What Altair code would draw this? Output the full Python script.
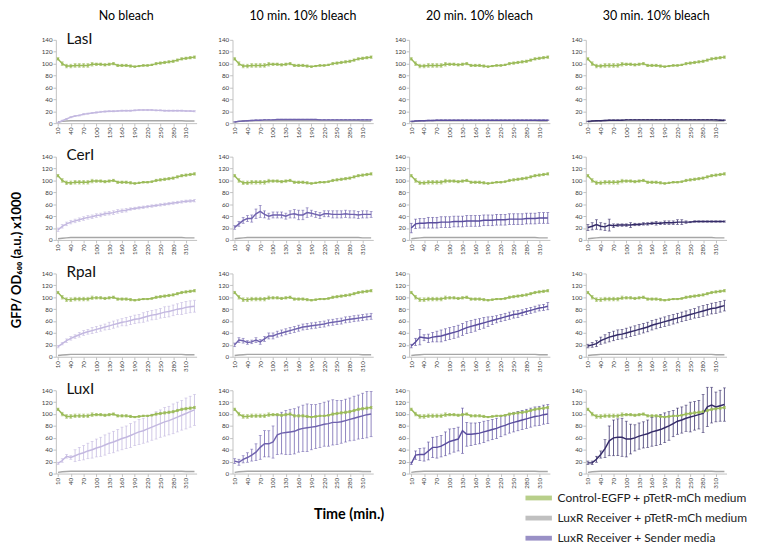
import altair as alt
import pandas as pd

times = [10, 20, 30, 40, 50, 60, 70, 80, 90, 100, 110, 120, 130, 140, 150, 160, 170,
         180, 190, 200, 210, 220, 230, 240, 250, 260, 270, 280, 290, 300, 310, 320, 330]
x_labels = [10, 40, 70, 100, 130, 160, 190, 220, 250, 280, 310]
y_labels = [0, 20, 40, 60, 80, 100, 120, 140]

genes = ["LasI", "CerI", "RpaI", "LuxI"]
bleaches = ["No bleach", "10 min. 10% bleach", "20 min. 10% bleach", "30 min. 10% bleach"]

CTRL = "Control-EGFP + pTetR-mCh medium"
GRAY = "LuxR Receiver + pTetR-mCh medium"
SEND = "LuxR Receiver + Sender media"
purple_keys = ["Sender (no bleach)", SEND, "Sender (20 min)", "Sender (30 min)"]

# Control-EGFP + pTetR-mCh medium (same in all panels)
ctrl = [108, 100, 96, 96, 97, 97, 97, 97, 99, 99, 99, 98, 99, 100, 97, 97, 97, 96, 95, 96,
        97, 97, 98, 100, 101, 102, 103, 104, 106, 108, 109, 110, 111]
ctrl_err = [2, 3, 3, 3, 3, 3, 3, 3, 3, 2, 2, 2, 2, 2, 2, 2, 2, 2, 1, 1,
            1, 1, 1, 2, 2, 2, 2, 2, 2, 2, 2, 2, 2]
# LuxR Receiver + pTetR-mCh medium
gray = [2, 3, 3.5, 4, 4, 4, 4, 4, 4, 4, 4, 4, 4, 4, 4, 4, 4, 4, 4, 4,
        4, 4, 4, 4, 4, 4, 4, 4, 4, 4, 3.5, 3.5, 3.5]

# LuxR Receiver + Sender media
lasi_0 = [1, 4, 7, 10, 12, 13, 15, 16, 17, 18, 19, 19.5, 20, 20, 20.5, 21, 21, 21, 21.5, 22,
          22, 22, 22, 21.5, 21.5, 21, 21, 21, 21, 21, 20.5, 20.5, 20]
lasi_0_err = [0.5, 1, 1, 1, 1, 1, 1, 1, 1, 1, 1, 1, 1, 1, 1, 1, 1, 1, 1, 1,
              1, 1, 1, 1, 1, 1, 1, 1, 1, 1, 1, 1, 1]
lasi_10 = [2, 3, 3.5, 4, 4.5, 5, 5, 5.5, 5.5, 5.5, 6, 6, 6, 6, 6, 6, 6, 6, 6, 6,
           5.5, 5.5, 5.5, 5.5, 5.5, 5.5, 5.5, 5.5, 5.5, 5.5, 5.5, 5.5, 5.5]
lasi_10_err = [0.5, 0.5, 0.5, 0.5, 0.5, 0.5, 0.5, 0.5, 0.5, 0.5, 0.5, 0.5, 0.5, 0.5, 0.5, 0.5, 0.5, 0.5, 0.5, 0.5,
               0.5, 0.5, 0.5, 0.5, 0.5, 0.5, 0.5, 0.5, 0.5, 0.5, 0.5, 0.5, 0.5]
lasi_20 = [3, 3.5, 4, 4, 4.5, 4.5, 5, 5, 5, 5, 5, 5, 5, 5, 5, 5, 5, 5, 5, 5,
           5, 5, 5, 5, 5, 5, 5, 5, 5, 5, 5, 5, 5]
lasi_20_err = [0.5, 0.5, 0.5, 0.5, 0.5, 0.5, 0.5, 0.5, 0.5, 0.5, 0.5, 0.5, 0.5, 0.5, 0.5, 0.5, 0.5, 0.5, 0.5, 0.5,
               0.5, 0.5, 0.5, 0.5, 0.5, 0.5, 0.5, 0.5, 0.5, 0.5, 0.5, 0.5, 0.5]
lasi_30 = [3, 3.5, 4, 4, 4.5, 5, 5, 5, 5, 5.5, 5.5, 5.5, 5.5, 5.5, 5.5, 5.5, 5.5, 5.5, 5.5, 5.5,
           5.5, 5.5, 5.5, 5.5, 5.5, 5.5, 5.5, 5.5, 5.5, 5.5, 5.5, 5, 5]
lasi_30_err = [0.5, 0.5, 0.5, 0.5, 0.5, 0.5, 0.5, 0.5, 0.5, 0.5, 0.5, 0.5, 0.5, 0.5, 0.5, 0.5, 0.5, 0.5, 0.5, 0.5,
               0.5, 0.5, 0.5, 0.5, 0.5, 0.5, 0.5, 0.5, 0.5, 0.5, 0.5, 0.5, 0.5]

ceri_0 = [17, 23, 27, 30, 32, 34, 36, 38, 39, 41, 42, 44, 45, 46, 48, 49, 50, 52, 53, 54,
          55, 56, 57, 58, 59, 60, 61, 62, 63, 64, 65, 65.5, 66]
ceri_0_err = [3, 3, 3, 3, 3, 3, 3, 3, 3, 3, 3, 3, 3, 3, 3, 3, 3, 2, 2, 2,
              2, 2, 2, 2, 2, 2, 2, 2, 2, 2, 2, 2, 2]
ceri_10 = [21, 27, 33, 36, 36, 44, 48, 43, 40, 42, 42, 42, 40, 43, 44, 42, 42, 46, 45, 43,
           41, 44, 44, 43, 43, 43, 44, 43, 43, 42, 43, 43, 43]
ceri_10_err = [3, 4, 5, 5, 6, 8, 10, 6, 5, 5, 5, 5, 5, 6, 7, 8, 8, 8, 5, 5,
               5, 5, 5, 6, 6, 6, 6, 6, 6, 6, 6, 6, 5]
ceri_20 = [20, 27, 28, 28, 29, 29, 29, 30, 30, 30, 31, 31, 31, 32, 32, 32, 32, 33, 33, 33,
           34, 34, 34, 35, 35, 35, 35, 36, 36, 36, 37, 37, 37]
ceri_20_err = [8, 8, 8, 8, 9, 9, 9, 9, 9, 9, 9, 9, 9, 9, 9, 9, 9, 9, 9, 9,
               9, 9, 9, 9, 9, 9, 9, 9, 9, 9, 9, 9, 9]
ceri_30 = [21, 23, 26, 23, 22, 25, 24, 25, 25, 25, 25, 26, 26, 27, 27, 28, 28, 28, 29, 29,
           29, 30, 30, 30, 30, 31, 31, 31, 31, 31, 31, 31, 31]
ceri_30_err = [5, 6, 8, 6, 6, 10, 3, 2, 2, 2, 4, 2, 2, 2, 2, 2, 3, 2, 3, 3,
               3, 4, 4, 2, 1, 1, 1, 1, 1, 1, 1, 1, 1]

rpai_0 = [17, 22, 27, 31, 34, 37, 40, 42, 44, 46, 48, 50, 52, 54, 56, 58, 59, 61, 63, 64,
          66, 68, 70, 71, 73, 75, 76, 78, 80, 81, 83, 84, 85]
rpai_0_err = [2, 2, 3, 3, 3, 4, 4, 4, 5, 5, 5, 5, 6, 6, 6, 6, 7, 7, 7, 7,
              8, 8, 8, 8, 8, 9, 9, 9, 9, 10, 10, 10, 10]
rpai_10 = [20, 28, 27, 24, 25, 28, 25, 30, 35, 35, 38, 40, 42, 44, 46, 48, 50, 51, 52, 53,
           54, 55, 57, 58, 59, 60, 62, 63, 64, 65, 66, 67, 68]
rpai_10_err = [3, 4, 4, 3, 3, 4, 4, 4, 5, 5, 5, 5, 5, 5, 5, 5, 5, 5, 5, 5,
               5, 5, 5, 5, 5, 5, 5, 5, 5, 5, 5, 5, 5]
rpai_20 = [18, 25, 33, 32, 31, 33, 34, 35, 37, 39, 41, 43, 46, 49, 51, 53, 55, 57, 59, 61,
           63, 65, 67, 69, 71, 72, 74, 76, 78, 80, 82, 83, 85]
rpai_20_err = [3, 6, 13, 5, 7, 8, 9, 10, 10, 10, 10, 10, 10, 10, 10, 10, 9, 9, 8, 7,
               6, 6, 6, 6, 6, 6, 5, 5, 5, 5, 5, 5, 6]
rpai_30 = [18, 20, 22, 27, 30, 33, 35, 37, 38, 40, 42, 44, 46, 48, 50, 53, 55, 57, 59, 61,
           63, 65, 67, 69, 71, 73, 75, 77, 79, 81, 82, 84, 86]
rpai_30_err = [3, 4, 5, 6, 7, 8, 8, 8, 8, 8, 8, 8, 8, 8, 8, 8, 8, 8, 8, 8,
               8, 8, 8, 8, 8, 8, 9, 9, 9, 9, 9, 9, 9]

luxi_0 = [17, 22, 29, 27, 30, 33, 35, 38, 40, 43, 45, 48, 51, 53, 56, 59, 61, 64, 67, 70,
          72, 75, 78, 81, 84, 87, 89, 92, 95, 98, 101, 104, 107]
luxi_0_err = [2, 3, 3, 3, 10, 11, 12, 13, 14, 15, 16, 17, 17, 18, 18, 19, 19, 20, 20, 21,
              21, 22, 22, 23, 23, 24, 24, 25, 25, 25, 26, 26, 26]
luxi_10 = [21, 19, 24, 27, 31, 36, 44, 50, 50, 53, 65, 68, 69, 70, 71, 74, 76, 77, 78, 79,
           81, 83, 84, 86, 86, 87, 89, 91, 93, 95, 97, 99, 100]
luxi_10_err = [4, 5, 6, 8, 10, 14, 20, 22, 22, 27, 33, 35, 37, 38, 38, 38, 39, 40, 38, 37,
               37, 37, 38, 38, 37, 36, 36, 36, 37, 37, 38, 39, 38]
luxi_20 = [17, 31, 32, 32, 38, 44, 44, 46, 50, 54, 56, 58, 72, 66, 66, 67, 68, 70, 72, 74,
           76, 79, 81, 84, 86, 88, 90, 92, 94, 96, 97, 99, 100]
luxi_20_err = [2, 7, 10, 11, 15, 17, 18, 18, 20, 21, 20, 20, 38, 20, 19, 18, 18, 18, 17, 17,
               17, 17, 16, 16, 16, 16, 16, 16, 16, 16, 16, 16, 16]
luxi_30 = [18, 18, 24, 32, 42, 55, 60, 61, 61, 58, 58, 60, 63, 65, 67, 70, 72, 74, 77, 80,
           84, 88, 90, 93, 95, 97, 99, 101, 112, 115, 112, 114, 116]
luxi_30_err = [3, 3, 5, 6, 15, 25, 30, 31, 32, 30, 25, 22, 22, 22, 23, 24, 25, 25, 25, 24,
               22, 22, 22, 22, 25, 24, 24, 32, 33, 30, 25, 26, 28]

sender = {
    "LasI": [(lasi_0, lasi_0_err), (lasi_10, lasi_10_err), (lasi_20, lasi_20_err), (lasi_30, lasi_30_err)],
    "CerI": [(ceri_0, ceri_0_err), (ceri_10, ceri_10_err), (ceri_20, ceri_20_err), (ceri_30, ceri_30_err)],
    "RpaI": [(rpai_0, rpai_0_err), (rpai_10, rpai_10_err), (rpai_20, rpai_20_err), (rpai_30, rpai_30_err)],
    "LuxI": [(luxi_0, luxi_0_err), (luxi_10, luxi_10_err), (luxi_20, luxi_20_err), (luxi_30, luxi_30_err)],
}

rows = []
for g in genes:
    for bi, b in enumerate(bleaches):
        sv, se = sender[g][bi]
        for key, vals, errs in [(CTRL, ctrl, ctrl_err), (GRAY, gray, [0] * len(gray)),
                                (purple_keys[bi], sv, se)]:
            assert len(vals) == len(times) and len(errs) == len(times), (g, b, key)
            for t, v, e in zip(times, vals, errs):
                rows.append({"gene": g, "bleach": b, "key": key, "t": t, "v": v,
                             "lo": v - e, "hi": v + e, "err": e})
df = pd.DataFrame(rows)

color_domain = [CTRL, GRAY, SEND, purple_keys[0], purple_keys[2], purple_keys[3]]
color_range = ["#9bbb59", "#a6a6a6", "#6f62ae", "#c3b8e0", "#5a4d9e", "#342b68"]

FONT = "Lato"
color = alt.Color(
    "key:N",
    scale=alt.Scale(domain=color_domain, range=color_range),
    legend=alt.Legend(values=[CTRL, GRAY, SEND], title=None, orient="none",
                      legendX=488, legendY=470,
                      symbolType="M-1,0H3.6",
                      symbolStrokeWidth=5, symbolSize=144, labelFontSize=12.5,
                      labelFont=FONT, labelColor="#222222", rowPadding=0,
                      labelOffset=19, labelLimit=300),
)
x = alt.X("t:Q", scale=alt.Scale(domain=[5, 335], nice=False, zero=False),
          axis=alt.Axis(values=x_labels, title=None, labelAngle=-90))
y_axis = alt.Axis(values=y_labels, title=None)
y_scale = alt.Scale(domain=[0, 140], nice=False)

base = alt.Chart()
bars = base.mark_rule(strokeWidth=0.8).encode(
    x=x, y=alt.Y("lo:Q", scale=y_scale, axis=y_axis), y2="hi:Q", color=color
).transform_filter("datum.err > 0")
tick_lo = base.mark_tick(orient="horizontal", size=3, thickness=0.8).encode(
    x=x, y=alt.Y("lo:Q", scale=y_scale, axis=y_axis), color=color
).transform_filter("datum.err > 0")
tick_hi = base.mark_tick(orient="horizontal", size=3, thickness=0.8).encode(
    x=x, y=alt.Y("hi:Q", scale=y_scale, axis=y_axis), color=color
).transform_filter("datum.err > 0")
lines = base.mark_line(strokeWidth=1.5).encode(
    x=x, y=alt.Y("v:Q", scale=y_scale, axis=y_axis), color=color
)
pts = base.mark_point(shape="square", size=5, filled=True, opacity=1).encode(
    x=x, y=alt.Y("v:Q", scale=y_scale, axis=y_axis), color=color
).transform_filter(alt.datum.key == CTRL)
label = base.mark_text(align="left", baseline="middle", fontSize=16, font=FONT,
                       color="#111111").encode(
    text="gene:N", x=alt.value(11), y=alt.value(-1)
).transform_filter(
    (alt.datum.bleach == bleaches[0]) & (alt.datum.key == CTRL) & (alt.datum.t == 10)
)

chart = alt.layer(bars, tick_lo, tick_hi, lines, pts, label, data=df).properties(
    width=147, height=87
).facet(
    row=alt.Row("gene:N", sort=genes, title="GFP/ OD₆₀₀ (a.u.) x1000",
                header=alt.Header(labels=False, titleOrient="left", titleFontSize=13.5,
                                  titleFontWeight="bold", titleFont=FONT, titlePadding=24)),
    column=alt.Column("bleach:N", sort=bleaches, title="Time (min.)",
                      header=alt.Header(labelOrient="top", titleOrient="bottom",
                                        labelFontSize=13, labelFont=FONT, labelPadding=18,
                                        titleFontSize=15, titleFont=FONT,
                                        titleFontWeight="bold", titleAlign="right",
                                        titlePadding=25)),
    spacing={"row": 35, "column": 37.5},
    bounds="flush",
).resolve_axis(x="independent", y="independent").configure_view(
    stroke=None
).configure_axis(
    grid=False, domainColor="#bfbfbf", tickColor="#bfbfbf", tickSize=3,
    labelFontSize=6.5, labelFont=FONT, labelColor="#404040", labelPadding=1
).properties(padding={"left": 2, "top": -10, "right": 2, "bottom": 0})

chart.save("out.html", embed_options={"renderer": "svg", "actions": False})
